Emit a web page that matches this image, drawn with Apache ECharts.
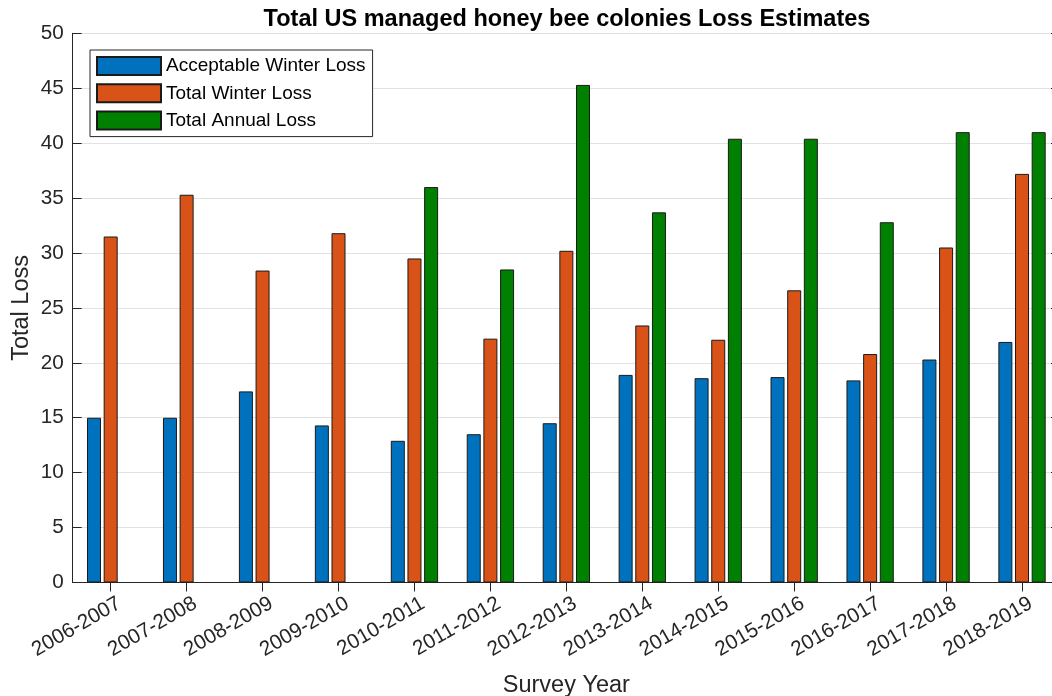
<!DOCTYPE html>
<html>
<head>
<meta charset="utf-8">
<script src="https://cdn.jsdelivr.net/npm/echarts@6/dist/echarts.min.js"></script>
<style>html,body{margin:0;padding:0;background:#fff;}#c{width:1052px;height:696px;}</style>
</head>
<body>
<div id="c"></div>
<script>
const categories = ['2006-2007','2007-2008','2008-2009','2009-2010','2010-2011','2011-2012','2012-2013','2013-2014','2014-2015','2015-2016','2016-2017','2017-2018','2018-2019'];
const acceptableWinterLoss = [15.0, 15.0, 17.4, 14.3, 12.9, 13.5, 14.5, 18.9, 18.6, 18.7, 18.4, 20.3, 21.9];
const totalWinterLoss = [31.5, 35.3, 28.4, 31.8, 29.5, 22.2, 30.2, 23.4, 22.1, 26.6, 20.8, 30.5, 37.2];
const totalAnnualLoss = [null, null, null, null, 36.0, 28.5, 45.3, 33.7, 40.4, 40.4, 32.8, 41.0, 41.0];
const seriesNames = ['Acceptable Winter Loss', 'Total Winter Loss', 'Total Annual Loss'];

const FONT = '"Liberation Sans", Arial, Helvetica, sans-serif';
const AX = '#262626';
const chart = echarts.init(document.getElementById('c'), null, {renderer: 'canvas'});
const barStyle = (color) => ({ color: color, borderColor: '#1a1a1a', borderWidth: 1 });
chart.setOption({
  animation: false,
  backgroundColor: '#ffffff',
  title: {
    text: 'Total US managed honey bee colonies Loss Estimates',
    left: 562, textAlign: 'center', top: 3,
    textStyle: { fontFamily: FONT, fontSize: 23.5, fontWeight: 'bold', color: '#000' }
  },
  legend: {
    orient: 'vertical', left: 90, top: 50,
    padding: [6, 7, 6, 6],
    itemWidth: 64, itemHeight: 18, itemGap: 7.3,
    icon: 'rect',
    borderColor: AX, borderWidth: 1, backgroundColor: '#fff',
    textStyle: { fontFamily: FONT, fontSize: 19, lineHeight: 18, color: '#000' },
    data: seriesNames
  },
  grid: { left: 72.7, right: -8, top: 33.3, bottom: 113.5, containLabel: false, outerBoundsMode: 'none' },
  xAxis: [{
    type: 'category', data: categories, position: 'bottom',
    name: 'Survey Year', nameLocation: 'middle', nameGap: 91, nameMoveOverlap: false,
    nameTextStyle: { fontFamily: FONT, fontSize: 23.5, color: AX },
    axisLine: { show: true, lineStyle: { color: AX, width: 1 } },
    axisTick: { show: true, inside: true, length: 9, alignWithLabel: true, lineStyle: { color: AX } },
    axisLabel: { rotate: 30, fontFamily: FONT, fontSize: 20.7, color: AX, margin: 4.5, interval: 0,
                 verticalAlign: 'top', lineHeight: 35, hideOverlap: false },
    splitLine: { show: false }
  }, {
    type: 'category', data: categories, position: 'top',
    axisLine: { show: true, lineStyle: { color: AX, width: 1 } },
    axisTick: { show: true, inside: true, length: 9, alignWithLabel: true, lineStyle: { color: AX } },
    axisLabel: { show: false }
  }],
  yAxis: [{
    type: 'value', min: 0, max: 50, interval: 5, position: 'left',
    name: 'Total Loss', nameLocation: 'middle', nameGap: 39, nameMoveOverlap: false,
    nameTextStyle: { fontFamily: FONT, fontSize: 23.5, color: AX },
    axisLine: { show: true, lineStyle: { color: AX, width: 1 } },
    axisTick: { show: true, inside: true, length: 9, lineStyle: { color: AX } },
    axisLabel: { fontFamily: FONT, fontSize: 20.7, color: AX, margin: 9 },
    splitLine: { show: true, lineStyle: { color: '#e2e2e2', width: 1 } }
  }, {
    type: 'value', min: 0, max: 50, interval: 5, position: 'right',
    axisLine: { show: true, lineStyle: { color: AX, width: 1 } },
    axisTick: { show: true, inside: true, length: 9, lineStyle: { color: AX } },
    axisLabel: { show: false }, splitLine: { show: false }
  }],
  series: [
    { name: seriesNames[0], type: 'bar', data: acceptableWinterLoss, barWidth: 14, barGap: '19%', itemStyle: barStyle('#0072BD') },
    { name: seriesNames[1], type: 'bar', data: totalWinterLoss, barWidth: 14, barGap: '19%', itemStyle: barStyle('#D95319') },
    { name: seriesNames[2], type: 'bar', data: totalAnnualLoss, barWidth: 14, barGap: '19%', itemStyle: barStyle('#008000') }
  ]
});
</script>
</body>
</html>
